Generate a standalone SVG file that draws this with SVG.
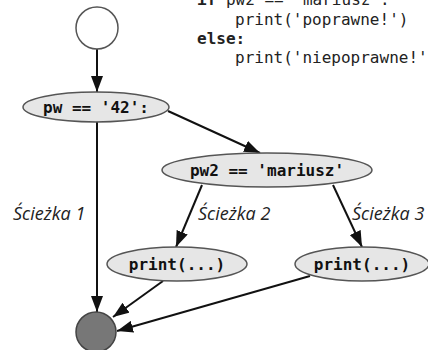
<svg xmlns="http://www.w3.org/2000/svg" width="428" height="350" viewBox="0 0 428 350">
  <style>
    .code { font-family: "DejaVu Sans Mono", "Liberation Mono", monospace; font-size: 16px; fill: #222; }
    .kw { font-weight: bold; }
    .node { fill: #e6e6e6; stroke: #555; stroke-width: 1.5; }
    .label { font-family: "DejaVu Sans Mono", "Liberation Mono", monospace; font-size: 16px; font-weight: bold; fill: #111; text-anchor: middle; }
    .path { font-family: "Open Sans", "Noto Sans", sans-serif; font-style: italic; font-size: 18px; fill: #222; }
    .edge { stroke: #111; stroke-width: 2; fill: none; marker-end: url(#arrow); }
  </style>
  <defs>
    <marker id="arrow" markerUnits="userSpaceOnUse" markerWidth="16" markerHeight="12" viewBox="0 0 16 12" refX="16" refY="6" orient="auto">
      <path d="M0,0 L16,6 L0,12 z" fill="#111"/>
    </marker>
  </defs>

  <rect width="428" height="350" fill="#fff"/>

  <!-- code listing -->
  <g id="code">
    <text class="code" x="197" y="5"><tspan class="kw">if</tspan> pw2 == 'mariusz':</text>
    <text class="code" x="235" y="25">print('poprawne!')</text>
    <text class="code kw" x="197" y="44">else:</text>
    <text class="code" x="235" y="63">print('niepoprawne!')</text>
  </g>

  <!-- connectors -->
  <g id="edges">
    <line class="edge" x1="97" y1="49" x2="97" y2="92"/>
    <line class="edge" x1="168" y1="111" x2="260" y2="153"/>
    <line class="edge" x1="97" y1="122" x2="97" y2="312"/>
    <line class="edge" x1="202" y1="185" x2="176" y2="247"/>
    <line class="edge" x1="333" y1="185" x2="362" y2="247"/>
    <line class="edge" x1="163" y1="281" x2="113" y2="317"/>
    <line class="edge" x1="310" y1="276" x2="117" y2="331"/>
  </g>

  <!-- path labels -->
  <g id="path-labels">
    <text class="path" x="13" y="220">Ścieżka 1</text>
    <text class="path" x="198" y="220">Ścieżka 2</text>
    <text class="path" x="352" y="220">Ścieżka 3</text>
  </g>

  <g id="start">
    <circle cx="97" cy="28" r="21" fill="#fff" stroke="#555" stroke-width="1.5"/>
  </g>

  <g id="cond-pw">
    <ellipse class="node" cx="96" cy="107" rx="73" ry="15"/>
    <text class="label" x="96" y="113">pw == '42':</text>
  </g>

  <g id="cond-pw2">
    <ellipse class="node" cx="267" cy="170" rx="105" ry="17"/>
    <text class="label" x="267" y="176">pw2 == 'mariusz'</text>
  </g>

  <g id="print-ok">
    <ellipse class="node" cx="177" cy="264" rx="70" ry="17"/>
    <text class="label" x="177" y="270">print(...)</text>
  </g>

  <g id="print-fail">
    <ellipse class="node" cx="362" cy="264" rx="67" ry="17"/>
    <text class="label" x="362" y="270">print(...)</text>
  </g>

  <g id="end">
    <circle cx="96" cy="332" r="20" fill="#777" stroke="#444" stroke-width="1.5"/>
  </g>
</svg>
